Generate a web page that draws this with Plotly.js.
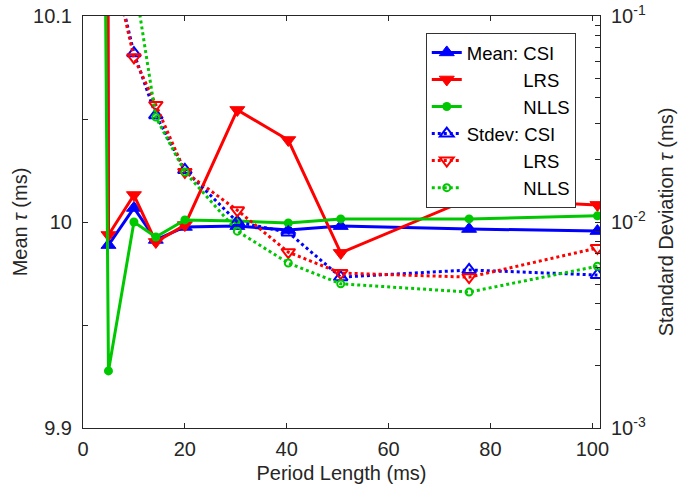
<!DOCTYPE html>
<html>
<head>
<meta charset="utf-8">
<script src="https://cdn.plot.ly/plotly-3.0.1.min.js"></script>
<style>html,body{margin:0;padding:0;background:#fff;}#chart{width:684px;height:489px;}</style>
</head>
<body>
<div id="chart"></div>
<script>
// Period length (ms)
const periodLength = [2.5, 5, 10, 14.3, 20, 30.3, 40.3, 50.6, 75.8, 101];
// Mean tau (ms)
const meanCSI  = [12, 9.9888, 10.0068, 9.9913, 9.9976, 9.998, 9.9961, 9.998, 9.9966, 9.9956];
const meanLRS  = [13, 9.9937, 10.0131, 9.9903, 9.9985, 10.0544, 10.0398, 9.985, 10.0112, 10.0083];
const meanNLLS = [10.71, 9.9277, 10.0, 9.9927, 10.001, 10.0005, 9.9995, 10.0015, 10.0015, 10.003];
// Standard deviation tau (ms)
const stdCSI  = [0.5, 0.22, 0.066, 0.033, 0.0179, 0.0100, 0.0089, 0.0054, 0.00585, 0.00553];
const stdLRS  = [0.5, 0.22, 0.063, 0.037, 0.0175, 0.0114, 0.00714, 0.00565, 0.0054, 0.00748];
const stdNLLS = [0.5, 0.3, 0.155, 0.0323, 0.0175, 0.00903, 0.00632, 0.00501, 0.00457, 0.0061];

const legendNames = ['Mean: CSI', 'LRS', 'NLLS', 'Stdev: CSI', 'LRS', 'NLLS'];
const xTicks = [0, 20, 40, 60, 80, 100];
const yTicks = [9.9, 9.95, 10, 10.05, 10.1];
const yTickText = ['9.9', '', '10', '', '10.1'];

const pad = '\u00a0'.repeat(11);
const BLUE = '#0000ff', RED = '#ff0000', GREEN = '#00c800';
const AX = '#262626';

const traces = [
  {x: periodLength, y: meanCSI, name: legendNames[0], yaxis: 'y',
   mode: 'lines+markers', line: {color: BLUE, width: 3},
   marker: {symbol: 'triangle-up', size: 13, color: BLUE, line: {color: BLUE, width: 1}}},
  {x: periodLength, y: meanLRS, name: pad + legendNames[1], yaxis: 'y',
   mode: 'lines+markers', line: {color: RED, width: 3},
   marker: {symbol: 'triangle-down', size: 13, color: RED, line: {color: RED, width: 1}}},
  {x: periodLength, y: meanNLLS, name: pad + legendNames[2], yaxis: 'y',
   mode: 'lines+markers', line: {color: GREEN, width: 3},
   marker: {symbol: 'circle', size: 9, color: GREEN}},
  {x: periodLength, y: stdCSI, name: legendNames[3], yaxis: 'y2',
   mode: 'lines+markers', line: {color: BLUE, width: 3, dash: 'dot'},
   marker: {symbol: 'triangle-up-open', size: 12, color: BLUE, line: {color: BLUE, width: 2}}},
  {x: periodLength, y: stdLRS, name: pad + legendNames[4], yaxis: 'y2',
   mode: 'lines+markers', line: {color: RED, width: 3, dash: 'dot'},
   marker: {symbol: 'triangle-down-open', size: 12, color: RED, line: {color: RED, width: 2}}},
  {x: periodLength, y: stdNLLS, name: pad + legendNames[5], yaxis: 'y2',
   mode: 'lines+markers', line: {color: GREEN, width: 3, dash: 'dot'},
   marker: {symbol: 'circle-open', size: 7, color: GREEN, line: {color: GREEN, width: 2}}}
];

const minorVals = [], minorText = [];
for (let e = -3; e <= -1; e++) {
  for (let m = 1; m <= 9; m++) {
    if (e === -1 && m > 1) break;
    minorVals.push(m * Math.pow(10, e));
    minorText.push(m === 1 ? '10<sup>' + e + '</sup>' : '');
  }
}

const font = {family: 'Liberation Sans, Arial, sans-serif', size: 20, color: AX};

const layout = {
  width: 684, height: 489,
  margin: {l: 83, r: 84, t: 16, b: 61},
  paper_bgcolor: '#fff', plot_bgcolor: '#fff',
  font: font,
  showlegend: true,
  legend: {x: 0.663, y: 0.959, xanchor: 'left', yanchor: 'top',
           bgcolor: '#fff', bordercolor: '#333', borderwidth: 1,
           font: {family: font.family, size: 18.5, color: '#000'}},
  xaxis: {range: [0, 101.5], tickvals: xTicks, ticks: 'inside', ticklen: 5,
          ticklabelstandoff: 3,
          showline: true, mirror: 'ticks', linecolor: AX, linewidth: 1, tickcolor: AX,
          showgrid: false, zeroline: false,
          title: {text: 'Period Length (ms)', standoff: 6, font: {size: 20}}},
  yaxis: {range: [9.9, 10.1], tickmode: 'array', tickvals: yTicks, ticktext: yTickText,
          ticks: 'inside', ticklen: 5, ticklabelstandoff: 6,
          showline: true, linecolor: AX, linewidth: 1, tickcolor: AX,
          showgrid: false, zeroline: false,
          title: {text: 'Mean <i>τ</i> (ms)', standoff: 0, font: {size: 20}}},
  yaxis2: {type: 'log', range: [-3, -1], overlaying: 'y', side: 'right',
           tickmode: 'array', tickvals: minorVals, ticktext: minorText,
           ticks: 'inside', ticklen: 5, ticklabelstandoff: 6,
           showline: true, linecolor: AX, linewidth: 1, tickcolor: AX,
           showgrid: false, zeroline: false,
           title: {text: 'Standard Deviation <i>τ</i> (ms)', standoff: 14, font: {size: 20}}}
};

Plotly.newPlot('chart', traces, layout, {displayModeBar: false, staticPlot: true});
</script>
</body>
</html>
